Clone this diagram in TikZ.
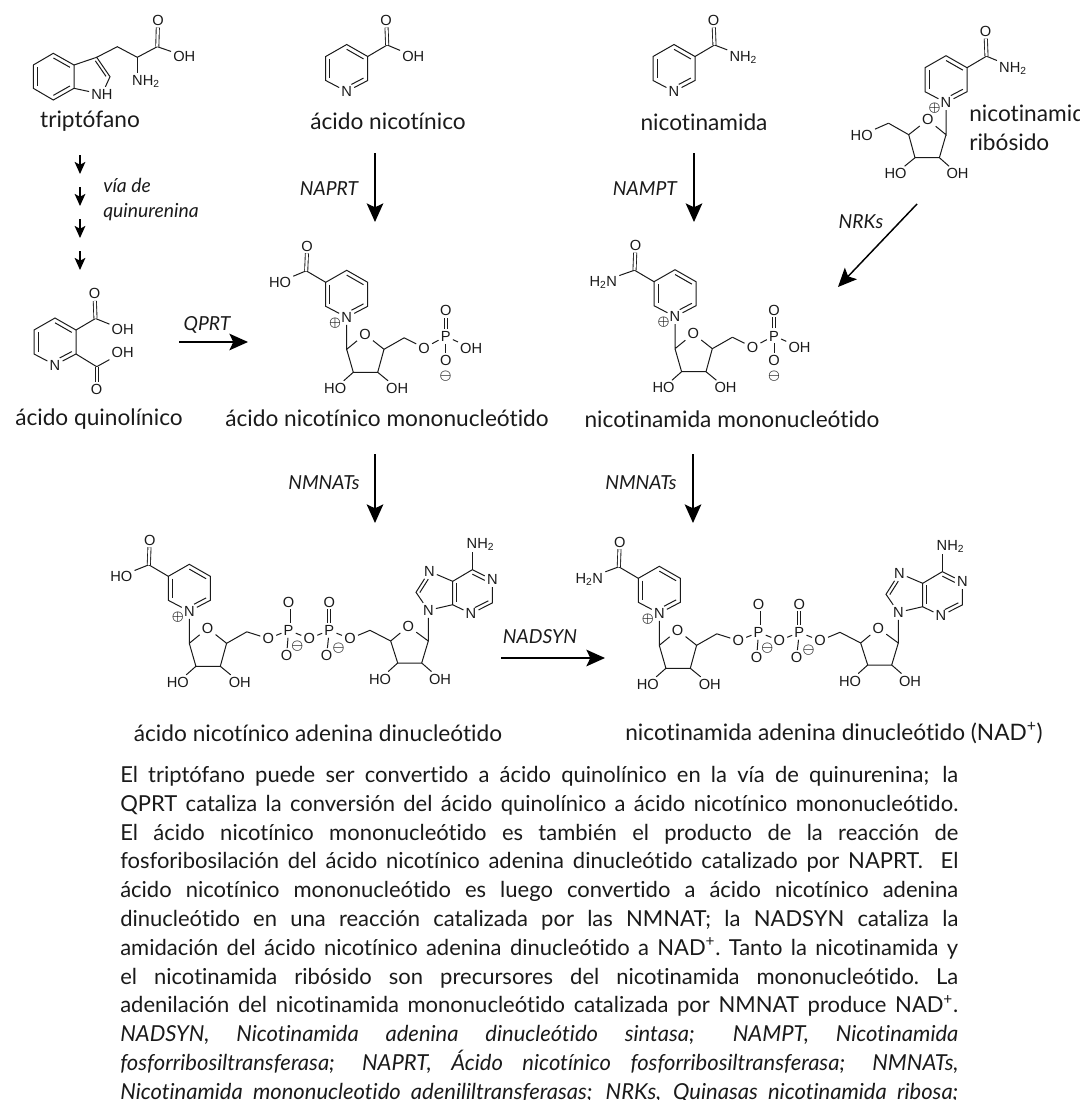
\documentclass[tikz,border=0pt]{standalone}
\usepackage{fontspec}
\usepackage{xcolor}
\usepackage{tikz}
\usetikzlibrary{calc,arrows.meta}
\setmainfont{Lato}[Ligatures=NoCommon]
\newfontfamily\quimica{Liberation Sans}
\definecolor{tinta}{HTML}{1A1A1A}
\newcommand{\enlaceint}[4][]{\draw[enlace,#1] ($(#2)!.2!(#4)$) -- ($(#3)!.2!(#4)$);}
\newcommand{\renglon}[1]{\hbox to 628.5pt{\spaceskip=.2em plus 1fil\xspaceskip=\spaceskip #1}}
\tikzset{
  enlace/.style={color=tinta, line width=0.75pt},
  doble/.style={color=tinta, line width=0.65pt, double, double distance=1.7pt},
  atomo/.style={color=tinta, inner sep=1.5pt, text height=7.8pt, text depth=0pt, font=\quimica\fontsize{11}{12}\selectfont},
  carga/.style={color=tinta, inner sep=0pt, font=\boldmath\fontsize{10}{10}\selectfont},
  rotulo/.style={color=tinta, inner sep=0pt, font=\fontsize{17}{21.5}\selectfont},
  enzima/.style={color=tinta, inner sep=0pt, font=\itshape\fontsize{14.5}{18.5}\selectfont},
  flecha/.style={color=black, line width=1.1pt, -{Stealth[length=14pt, width=12.5pt, inset=3pt]}},
  flechita/.style={color=black, line width=1.1pt, -{Stealth[length=9pt, width=8pt, inset=2pt]}},
  pics/anillo/.style n args={3}{code={
    \node[atomo] (-N) at (0,0) {N};
    \coordinate (-cen) at (0,-23);
    \coordinate (-CA) at (21,-11);
    \coordinate (-CB) at (21,-35);
    \coordinate (-CC) at (0,-47);
    \coordinate (-CD) at (-21,-35);
    \coordinate (-CE) at (-21,-11);
    \draw[enlace] (-N) -- (-CA) -- (-CB) -- (-CC) -- (-CD) -- (-CE) -- (-N);
    \enlaceint{-CD}{-CE}{-cen}
    \enlaceint{-CC}{-CB}{-cen}
    \enlaceint[shorten <=4pt]{-N}{-CA}{-cen}
    \coordinate (-Cc) at (#1*40.5,-46.5);
    \node[atomo] (-O) at (#1*39.5,-71.5) {O};
    \node[atomo] (-X) at (#3,-35.5) {#2};
    \draw[enlace] (#1*21,-35) -- (-Cc) -- (-X);
    \draw[doble] (-Cc) -- (-O);
  }},
  pics/ribosa/.style n args={3}{code={
    \node[carga] (-mas) at (-11.5,5.5) {$\oplus$};
    \node[atomo] (-Or) at (#1*18.3,17) {O};
    \coordinate (-C1) at (0,32);
    \coordinate (-C4) at (#1*37.3,32);
    \coordinate (-C3) at (#1*31,55);
    \coordinate (-C2) at (#1*6.6,55);
    \coordinate (-C5) at (#1*57.5,20.5);
    \node[atomo] (-Oa) at (#1*-11.5,71) {#2};
    \node[atomo] (-Ob) at (#1*50.5,71) {#3};
    \draw[enlace] (-N) -- (-C1) -- (-Or) -- (-C4) -- (-C3) -- (-C2) -- (-C1);
    \draw[enlace] (-C2) -- (-Oa);
    \draw[enlace] (-C3) -- (-Ob);
    \draw[enlace] (-C4) -- (-C5);
  }},
  pics/monofosfato/.style={code={
    \node[atomo] (-O5) at (0,0) {O};
    \node[atomo] (-P) at (21.5,-11.5) {P};
    \node[atomo] (-Od) at (21.5,-37.5) {O};
    \node[atomo] (-OH) at (47,0) {OH};
    \node[atomo] (-Om) at (21.5,12.7) {O};
    \node[carga] (-menos) at (21.5,28.5) {$\ominus$};
    \draw[enlace] (-C5) -- (-O5) -- (-P) -- (-OH);
    \draw[enlace] (-P) -- (-Om);
    \draw[doble] (-P) -- (-Od);
  }},
  pics/difosfato/.style={code={
    \node[atomo] (-O5) at (0,0) {O};
    \node[atomo] (-P1) at (20.3,-8.3) {P};
    \node[atomo] (-Od1) at (20.3,-36.6) {O};
    \node[atomo] (-Om1) at (18.3,17) {O};
    \node[carga] (-menos1) at (29,7.7) {$\ominus$};
    \node[atomo] (-Op) at (41,0) {O};
    \node[atomo] (-P2) at (61,-8.3) {P};
    \node[atomo] (-Od2) at (61,-36.6) {O};
    \node[atomo] (-Om2) at (58.3,17) {O};
    \node[carga] (-menos2) at (70.3,10) {$\ominus$};
    \node[atomo] (-O3) at (81.7,0) {O};
    \draw[enlace] (-C5) -- (-O5) -- (-P1) -- (-Op) -- (-P2) -- (-O3);
    \draw[enlace] (-P1) -- (-Om1);
    \draw[enlace] (-P2) -- (-Om2);
    \draw[doble] (-P1) -- (-Od1);
    \draw[doble] (-P2) -- (-Od2);
  }},
  pics/adenosina/.style={code={
    \coordinate (-D5) at (20,-8.3);
    \coordinate (-D4) at (40.7,2.4);
    \node[atomo] (-Ors) at (58.3,-12.3) {O};
    \coordinate (-D1) at (78.3,2.4);
    \coordinate (-D2) at (71.7,24.4);
    \coordinate (-D3) at (47.7,24.4);
    \node[atomo] (-Hizq) at (30,40.4) {HO};
    \node[atomo] (-Hder) at (90,40.4) {OH};
    \draw[enlace] (-O3) -- (-D5) -- (-D4) -- (-Ors) -- (-D1) -- (-D2) -- (-D3) -- (-D4);
    \draw[enlace] (-D3) -- (-Hizq);
    \draw[enlace] (-D2) -- (-Hder);
    \node[atomo] (-N9) at (78.3,-28.3) {N};
    \coordinate (-A8) at (66,-46.3);
    \node[atomo] (-N7) at (79.3,-67.3) {N};
    \coordinate (-A5) at (102.7,-57.3);
    \coordinate (-A4) at (102.7,-33.9);
    \node[atomo] (-N3) at (121,-24.9) {N};
    \coordinate (-A2) at (142.3,-35.6);
    \node[atomo] (-N1) at (142.3,-58.9) {N};
    \coordinate (-A6) at (122.3,-68.9);
    \node[atomo] (-NH) at (130.5,-95) {NH\textsubscript{2}};
    \coordinate (-Apie) at (122.3,-87);
    \coordinate (-cen5) at (85,-45);
    \coordinate (-cen6) at (122.5,-46.5);
    \draw[enlace] (-D1) -- (-N9) -- (-A8) -- (-N7) -- (-A5) -- (-A4) -- (-N9);
    \draw[enlace] (-A4) -- (-N3) -- (-A2) -- (-N1) -- (-A6) -- (-A5);
    \draw[enlace] (-A6) -- (-Apie);
    \enlaceint[shorten >=3pt]{-A8}{-N7}{-cen5}
    \enlaceint{-A5}{-A4}{-cen6}
    \enlaceint[shorten >=3pt]{-A6}{-N1}{-cen6}
    \enlaceint[shorten >=3pt]{-A2}{-N3}{-cen6}
  }},
}

\begin{document}
\begin{tikzpicture}[x=0.75pt, y=-0.75pt]
  \useasboundingbox (0,0) rectangle (1080,1100);

  \coordinate (trp-b1) at (33.3,65);
  \coordinate (trp-b2) at (53.3,53.3);
  \coordinate (trp-b3) at (74,65);
  \coordinate (trp-b4) at (74,88.3);
  \coordinate (trp-b5) at (53.3,100);
  \coordinate (trp-b6) at (33.3,88.3);
  \coordinate (trp-cenb) at (53.7,76.6);
  \coordinate (trp-cenp) at (90,75);
  \coordinate (trp-C3) at (96.7,57.3);
  \coordinate (trp-C2) at (110,76.7);
  \coordinate (trp-CH) at (117.3,46.7);
  \coordinate (trp-Ca) at (137.3,57.3);
  \coordinate (trp-Cc) at (157.3,46.7);
  \coordinate (trp-pie) at (137.3,73);
  \node[atomo] (trp-NH) at (102,94.3) {NH};
  \node[atomo] (trp-O) at (158,20) {O};
  \node[atomo] (trp-OH) at (184.3,56) {OH};
  \node[atomo] (trp-NH2) at (146,80) {NH\textsubscript{2}};
  \draw[enlace] (trp-b1) -- (trp-b2) -- (trp-b3) -- (trp-b4) -- (trp-b5) -- (trp-b6) -- (trp-b1);
  \draw[enlace] (trp-b3) -- (trp-C3) -- (trp-C2) -- (trp-NH) -- (trp-b4);
  \draw[enlace] (trp-C3) -- (trp-CH) -- (trp-Ca) -- (trp-Cc) -- (trp-OH);
  \draw[enlace] (trp-Ca) -- (trp-pie);
  \draw[doble] (trp-Cc) -- (trp-O);
  \enlaceint{trp-b1}{trp-b6}{trp-cenb}
  \enlaceint{trp-b2}{trp-b3}{trp-cenb}
  \enlaceint{trp-b4}{trp-b5}{trp-cenb}
  \enlaceint{trp-C3}{trp-C2}{trp-cenp}

  \pic (nic) at (346.7,91.5) {anillo={1}{OH}{66.6}};
  \pic (nam) at (674,91.5) {anillo={1}{NH\textsubscript{2}}{69.3}};

  \pic (nr) at (946,102.7) {anillo={1}{NH\textsubscript{2}}{67}};
  \pic (nr) at (nr-N) {ribosa={-1}{OH}{HO}};
  \node[atomo] (nr-HO) at (861.7,135) {HO};
  \draw[enlace] (nr-C5) -- (nr-HO);

  \pic (quin) at (55,365) {anillo={1}{OH}{67.7}};
  \coordinate (quin-Cd) at (96.7,366.7);
  \node[atomo] (quin-Od) at (96.7,389.3) {O};
  \node[atomo] (quin-OH) at (122.7,352.3) {OH};
  \draw[enlace] (quin-CA) -- (quin-Cd) -- (quin-OH);
  \draw[doble] (quin-Cd) -- (quin-Od);

  \pic (namn) at (346.7,317.3) {anillo={-1}{HO}{-66.7}};
  \pic (namn) at (namn-N) {ribosa={1}{HO}{OH}};
  \pic (namn) at ($(namn-N)+(77.5,30.6)$) {monofosfato};

  \pic (nmn) at (675,316.7) {anillo={-1}{H\textsubscript{2}N}{-71.7}};
  \pic (nmn) at (nmn-N) {ribosa={1}{HO}{OH}};
  \pic (nmn) at ($(nmn-N)+(77.5,30.6)$) {monofosfato};

  \pic (naad) at (189.3,611.3) {anillo={-1}{HO}{-68}};
  \pic (naad) at (naad-N) {ribosa={1}{HO}{OH}};
  \pic (naad) at ($(naad-N)+(79,27.3)$) {difosfato};
  \pic (naad) at (naad-O3) {adenosina};

  \pic (nad) at (659.3,613.3) {anillo={-1}{H\textsubscript{2}N}{-70}};
  \pic (nad) at (nad-N) {ribosa={1}{HO}{OH}};
  \pic (nad) at ($(nad-N)+(79,27.3)$) {difosfato};
  \pic (nad) at (nad-O3) {adenosina};

  \node[rotulo] (lbl-trp) at (90,121) {triptófano};
  \node[rotulo] (lbl-nic) at (388,121) {ácido nicotínico};
  \node[rotulo] (lbl-nam) at (704,122) {nicotinamida};
  \node[rotulo, anchor=west, align=left] (lbl-nr) at (969,127.5) {nicotinamida\\ribósido};
  \node[rotulo] (lbl-quin) at (99,419) {ácido quinolínico};
  \node[rotulo] (lbl-namn) at (387,418) {ácido nicotínico mononucleótido};
  \node[rotulo] (lbl-nmn) at (732,419) {nicotinamida mononucleótido};
  \node[rotulo] (lbl-naad) at (318,733) {ácido nicotínico adenina dinucleótido};
  \node[rotulo] (lbl-nad) at (834,733) {nicotinamida adenina dinucleótido (NAD\textsuperscript{+})};

  \node[enzima] (enz-naprt) at (329,189) {NAPRT};
  \node[enzima] (enz-nampt) at (645,189) {NAMPT};
  \node[enzima] (enz-nrk) at (861,222) {NRKs};
  \node[enzima] (enz-qprt) at (207,325) {QPRT};
  \node[enzima] (enz-nmnat1) at (324,483) {NMNATs};
  \node[enzima] (enz-nmnat2) at (641,483) {NMNATs};
  \node[enzima] (enz-nadsyn) at (540,637) {NADSYN};
  \node[enzima, anchor=west, align=left] (enz-kyn) at (103,199.5) {vía de\\quinurenina};

  \coordinate (a1) at (375,153);
  \coordinate (a2) at (375,222);
  \coordinate (b1) at (694,153);
  \coordinate (b2) at (694,222);
  \coordinate (c1) at (917,204);
  \coordinate (c2) at (838,287);
  \coordinate (d1) at (179,342);
  \coordinate (d2) at (248,342);
  \coordinate (e1) at (375,454);
  \coordinate (e2) at (375,523);
  \coordinate (f1) at (693,454);
  \coordinate (f2) at (693,523);
  \coordinate (g1) at (501,658);
  \coordinate (g2) at (605,658);
  \draw[flecha] (a1) -- (a2);
  \draw[flecha] (b1) -- (b2);
  \draw[flecha] (c1) -- (c2);
  \draw[flecha] (d1) -- (d2);
  \draw[flecha] (e1) -- (e2);
  \draw[flecha] (f1) -- (f2);
  \draw[flecha] (g1) -- (g2);
  \foreach \n/\y in {1/155,2/187,3/219,4/251} {
    \coordinate (k\n a) at (80,\y);
    \coordinate (k\n b) at (80,\y+19);
    \draw[flechita] (k\n a) -- (k\n b);
  }

  \node[color=tinta, anchor=north west, inner sep=0pt, text width=628.5pt,
    font=\fontsize{16.5}{21.6}\selectfont] (cuerpo) at (120,766) {%
    \renglon{El triptófano puede ser convertido a ácido quinolínico en la vía de quinurenina; la}
    \renglon{QPRT cataliza la conversión del ácido quinolínico a ácido nicotínico mononucleótido.}
    \renglon{El ácido nicotínico mononucleótido es también el producto de la reacción de}
    \renglon{fosforibosilación del ácido nicotínico adenina dinucleótido catalizado por NAPRT.~ El}
    \renglon{ácido nicotínico mononucleótido es luego convertido a ácido nicotínico adenina}
    \renglon{dinucleótido en una reacción catalizada por las NMNAT; la NADSYN cataliza la}
    \renglon{amidación del ácido nicotínico adenina dinucleótido a NAD\textsuperscript{+}. Tanto la nicotinamida y}
    \renglon{el nicotinamida ribósido son precursores del nicotinamida mononucleótido. La}
    \renglon{adenilación del nicotinamida mononucleótido catalizada por NMNAT produce NAD\textsuperscript{+}.}
    \itshape
    \renglon{NADSYN, Nicotinamida adenina dinucleótido sintasa; NAMPT, Nicotinamida}
    \renglon{fosforribosiltransferasa; NAPRT, Ácido nicotínico fosforribosiltransferasa; NMNATs,}
    \renglon{Nicotinamida mononucleotido adenililtransferasas; NRKs, Quinasas nicotinamida ribosa;}
  };
\end{tikzpicture}
\end{document}
